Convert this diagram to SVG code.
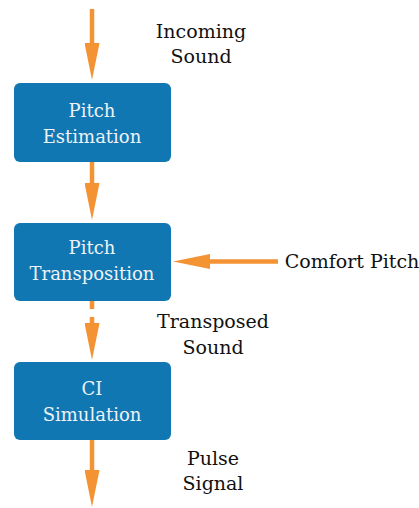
<svg xmlns="http://www.w3.org/2000/svg" width="419" height="508" viewBox="0 0 419 508">
<style>
.box{fill:#1177b3;}
.bt{fill:#eef2f6;font-family:"DejaVu Serif",serif;font-size:18px;text-anchor:middle;}
.lb{fill:#111;font-family:"DejaVu Serif",serif;font-size:19px;text-anchor:middle;}
.ar{stroke:#f39334;stroke-width:4.5;fill:none;marker-end:url(#ah);}
</style>
<defs>
<marker id="ah" markerUnits="userSpaceOnUse" viewBox="0 0 37 15" refX="2" refY="7.5" markerWidth="37" markerHeight="15" orient="auto">
<path d="M0,0 L37,7.5 L0,15 z" fill="#f39334"/>
</marker>
</defs>
<g id="connectors">
<line class="ar" x1="92" y1="9" x2="92" y2="45"/>
<line class="ar" x1="92" y1="162" x2="92" y2="185"/>
<line class="ar" x1="92" y1="300" x2="92" y2="325" stroke-dasharray="9 8"/>
<line class="ar" x1="92" y1="440" x2="92" y2="472"/>
<line class="ar" x1="278" y1="261.5" x2="208" y2="261.5"/>
</g>
<g id="pitch-estimation">
<rect class="box" x="14" y="83" width="157" height="79" rx="6"/>
<text class="bt" x="92" y="117">Pitch</text>
<text class="bt" x="92" y="143">Estimation</text>
</g>
<g id="pitch-transposition">
<rect class="box" x="14" y="223" width="157" height="78" rx="6"/>
<text class="bt" x="92" y="254">Pitch</text>
<text class="bt" x="92" y="280">Transposition</text>
</g>
<g id="ci-simulation">
<rect class="box" x="14" y="362" width="157" height="78" rx="6"/>
<text class="bt" x="92" y="395">CI</text>
<text class="bt" x="92" y="421">Simulation</text>
</g>
<g id="labels">
<text class="lb" x="201" y="38">Incoming</text>
<text class="lb" x="201" y="63">Sound</text>
<text class="lb" x="352" y="268">Comfort Pitch</text>
<text class="lb" x="213" y="328">Transposed</text>
<text class="lb" x="213" y="354">Sound</text>
<text class="lb" x="213" y="465">Pulse</text>
<text class="lb" x="213" y="490">Signal</text>
</g>
</svg>
